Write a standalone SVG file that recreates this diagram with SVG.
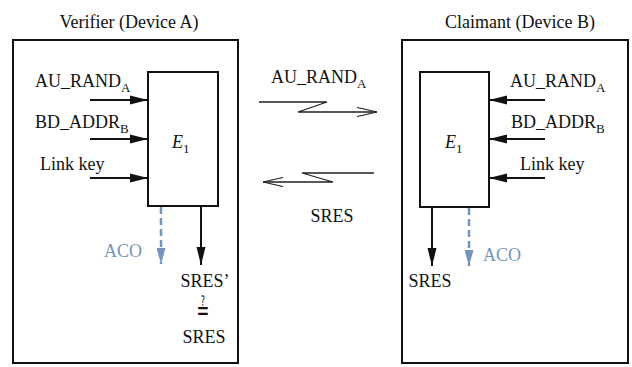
<svg xmlns="http://www.w3.org/2000/svg" width="632" height="367" viewBox="0 0 632 367">
<style>
text{font-family:"Liberation Serif","Times New Roman",serif;font-size:18px;fill:#111}
.sub{font-size:13px}
.aco{fill:#7495bb}
.box{fill:none;stroke:#111;stroke-width:2}
.ln{stroke:#111;stroke-width:2;fill:none}
.dash{stroke:#7495bb;stroke-width:2.5;stroke-dasharray:7 4;fill:none}
.msg{stroke:#222;stroke-width:1.3;fill:none}
</style>
<defs>
<marker id="ah" viewBox="0 0 18 10" refX="18" refY="5" markerWidth="18" markerHeight="10" markerUnits="userSpaceOnUse" orient="auto">
<path d="M0,0.5 L18,5 L0,9.5 Z" fill="#111"/>
</marker>
<marker id="ahb" viewBox="0 0 16 9" refX="16" refY="4.5" markerWidth="16" markerHeight="9" markerUnits="userSpaceOnUse" orient="auto">
<path d="M0,0 L16,4.5 L0,9 Z" fill="#7495bb"/>
</marker>
<marker id="open" viewBox="0 0 20 10" refX="20" refY="5" markerWidth="20" markerHeight="10" markerUnits="userSpaceOnUse" orient="auto">
<path d="M0,0.5 L20,5 L0,9.5" fill="none" stroke="#222" stroke-width="1.2"/>
</marker>
</defs>
<rect width="632" height="367" fill="#fff"/>

<g id="verifier">
<rect class="box" x="13" y="40" width="225" height="323"/>
<text x="129" y="28" text-anchor="middle">Verifier (Device A)</text>
</g>
<g id="verifier-e1">
<rect class="box" x="148" y="72" width="70" height="134"/>
<text x="172" y="148" font-style="italic">E<tspan class="sub" dy="5" font-style="normal">1</tspan></text>
</g>
<g id="verifier-labels">
<text x="35" y="87">AU_RAND<tspan class="sub" dy="5">A</tspan></text>
<text x="35" y="128">BD_ADDR<tspan class="sub" dy="5">B</tspan></text>
<text x="40" y="170">Link key</text>
<text class="aco" x="104" y="257">ACO</text>
<text x="205" y="287" text-anchor="middle">SRES’</text>
<text transform="translate(203 320) scale(0.85 1.6)" x="0" y="0" text-anchor="middle" style="font-family:'DejaVu Serif','DejaVu Sans',serif;font-size:18px">≟</text>
<text x="204" y="343" text-anchor="middle">SRES</text>
</g>

<g id="claimant">
<rect class="box" x="402" y="40" width="226" height="323"/>
<text x="520" y="28" text-anchor="middle">Claimant (Device B)</text>
</g>
<g id="claimant-e1">
<rect class="box" x="420" y="72" width="69" height="135"/>
<text x="445" y="148" font-style="italic">E<tspan class="sub" dy="5" font-style="normal">1</tspan></text>
</g>
<g id="claimant-labels">
<text x="510" y="87">AU_RAND<tspan class="sub" dy="5">A</tspan></text>
<text x="511" y="128">BD_ADDR<tspan class="sub" dy="5">B</tspan></text>
<text x="520" y="170">Link key</text>
<text x="430" y="287" text-anchor="middle">SRES</text>
<text class="aco" x="483" y="261">ACO</text>
</g>

<g id="messages">
<text x="271" y="83">AU_RAND<tspan class="sub" dy="5">A</tspan></text>
<text x="332" y="222" text-anchor="middle">SRES</text>
</g>

<g id="connectors">
<line class="ln" x1="90" y1="100" x2="148" y2="100" marker-end="url(#ah)"/>
<line class="ln" x1="90" y1="139" x2="148" y2="139" marker-end="url(#ah)"/>
<line class="ln" x1="90" y1="178" x2="148" y2="178" marker-end="url(#ah)"/>
<line class="dash" x1="161" y1="207" x2="161" y2="264" marker-end="url(#ahb)"/>
<line class="ln" x1="201" y1="206" x2="201" y2="265" marker-end="url(#ah)"/>

<line class="ln" x1="545" y1="100" x2="489" y2="100" marker-end="url(#ah)"/>
<line class="ln" x1="545" y1="139" x2="489" y2="139" marker-end="url(#ah)"/>
<line class="ln" x1="545" y1="178" x2="489" y2="178" marker-end="url(#ah)"/>
<line class="ln" x1="432" y1="207" x2="432" y2="266" marker-end="url(#ah)"/>
<line class="dash" x1="469" y1="208" x2="469" y2="266" marker-end="url(#ahb)"/>

<polyline class="msg" points="259,102 327,102 298,112 377,112" marker-end="url(#open)"/>
<polyline class="msg" points="374,173 302,173 333,182 263,182" marker-end="url(#open)"/>
</g>
</svg>
